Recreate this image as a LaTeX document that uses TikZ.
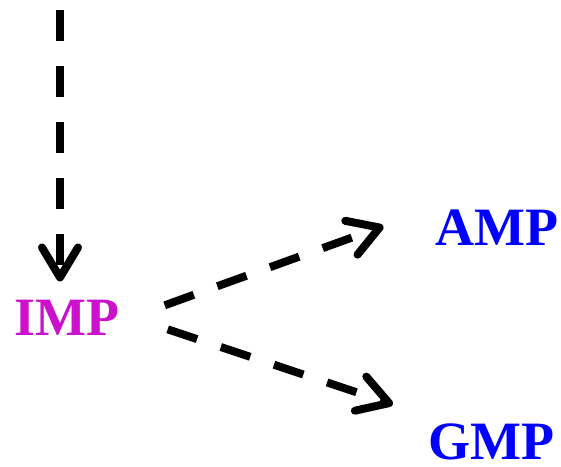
\documentclass[tikz,border=0pt]{standalone}
\usepackage{fontspec}
\setmainfont{Liberation Serif}
\usetikzlibrary{arrows.meta,calc}
\definecolor{impcol}{RGB}{204,17,204}
\definecolor{nucblue}{RGB}{0,0,255}
\begin{document}
\begin{tikzpicture}[x=1pt,y=-1pt,
  label/.style={font=\fontsize{54}{60}\selectfont\bfseries, inner sep=0pt, anchor=base},
  flow/.style={line width=8pt, dash pattern=on 31pt off 25pt,
    -{Straight Barb[length=30pt,width=36pt,line cap=round,line join=round]}}]
  \useasboundingbox (0,0) rectangle (561,466);
  \coordinate (top) at (60,10);
  \node[label, text=impcol] (IMP) at (67,335) {IMP};
  \node[label, text=nucblue] (AMP) at (497,245) {AMP};
  \node[label, text=nucblue] (GMP) at (491,459) {GMP};
  \draw[flow] (top) -- ($(top |- IMP.north)+(0,-18)$);
  \draw[flow] ($(IMP.east)+(45,-12)$) -- ($(AMP.west)+(-52,-1)$);
  \draw[flow] ($(IMP.east)+(48,12)$) -- ($(GMP.west)+(-35,-37)$);
\end{tikzpicture}
\end{document}
